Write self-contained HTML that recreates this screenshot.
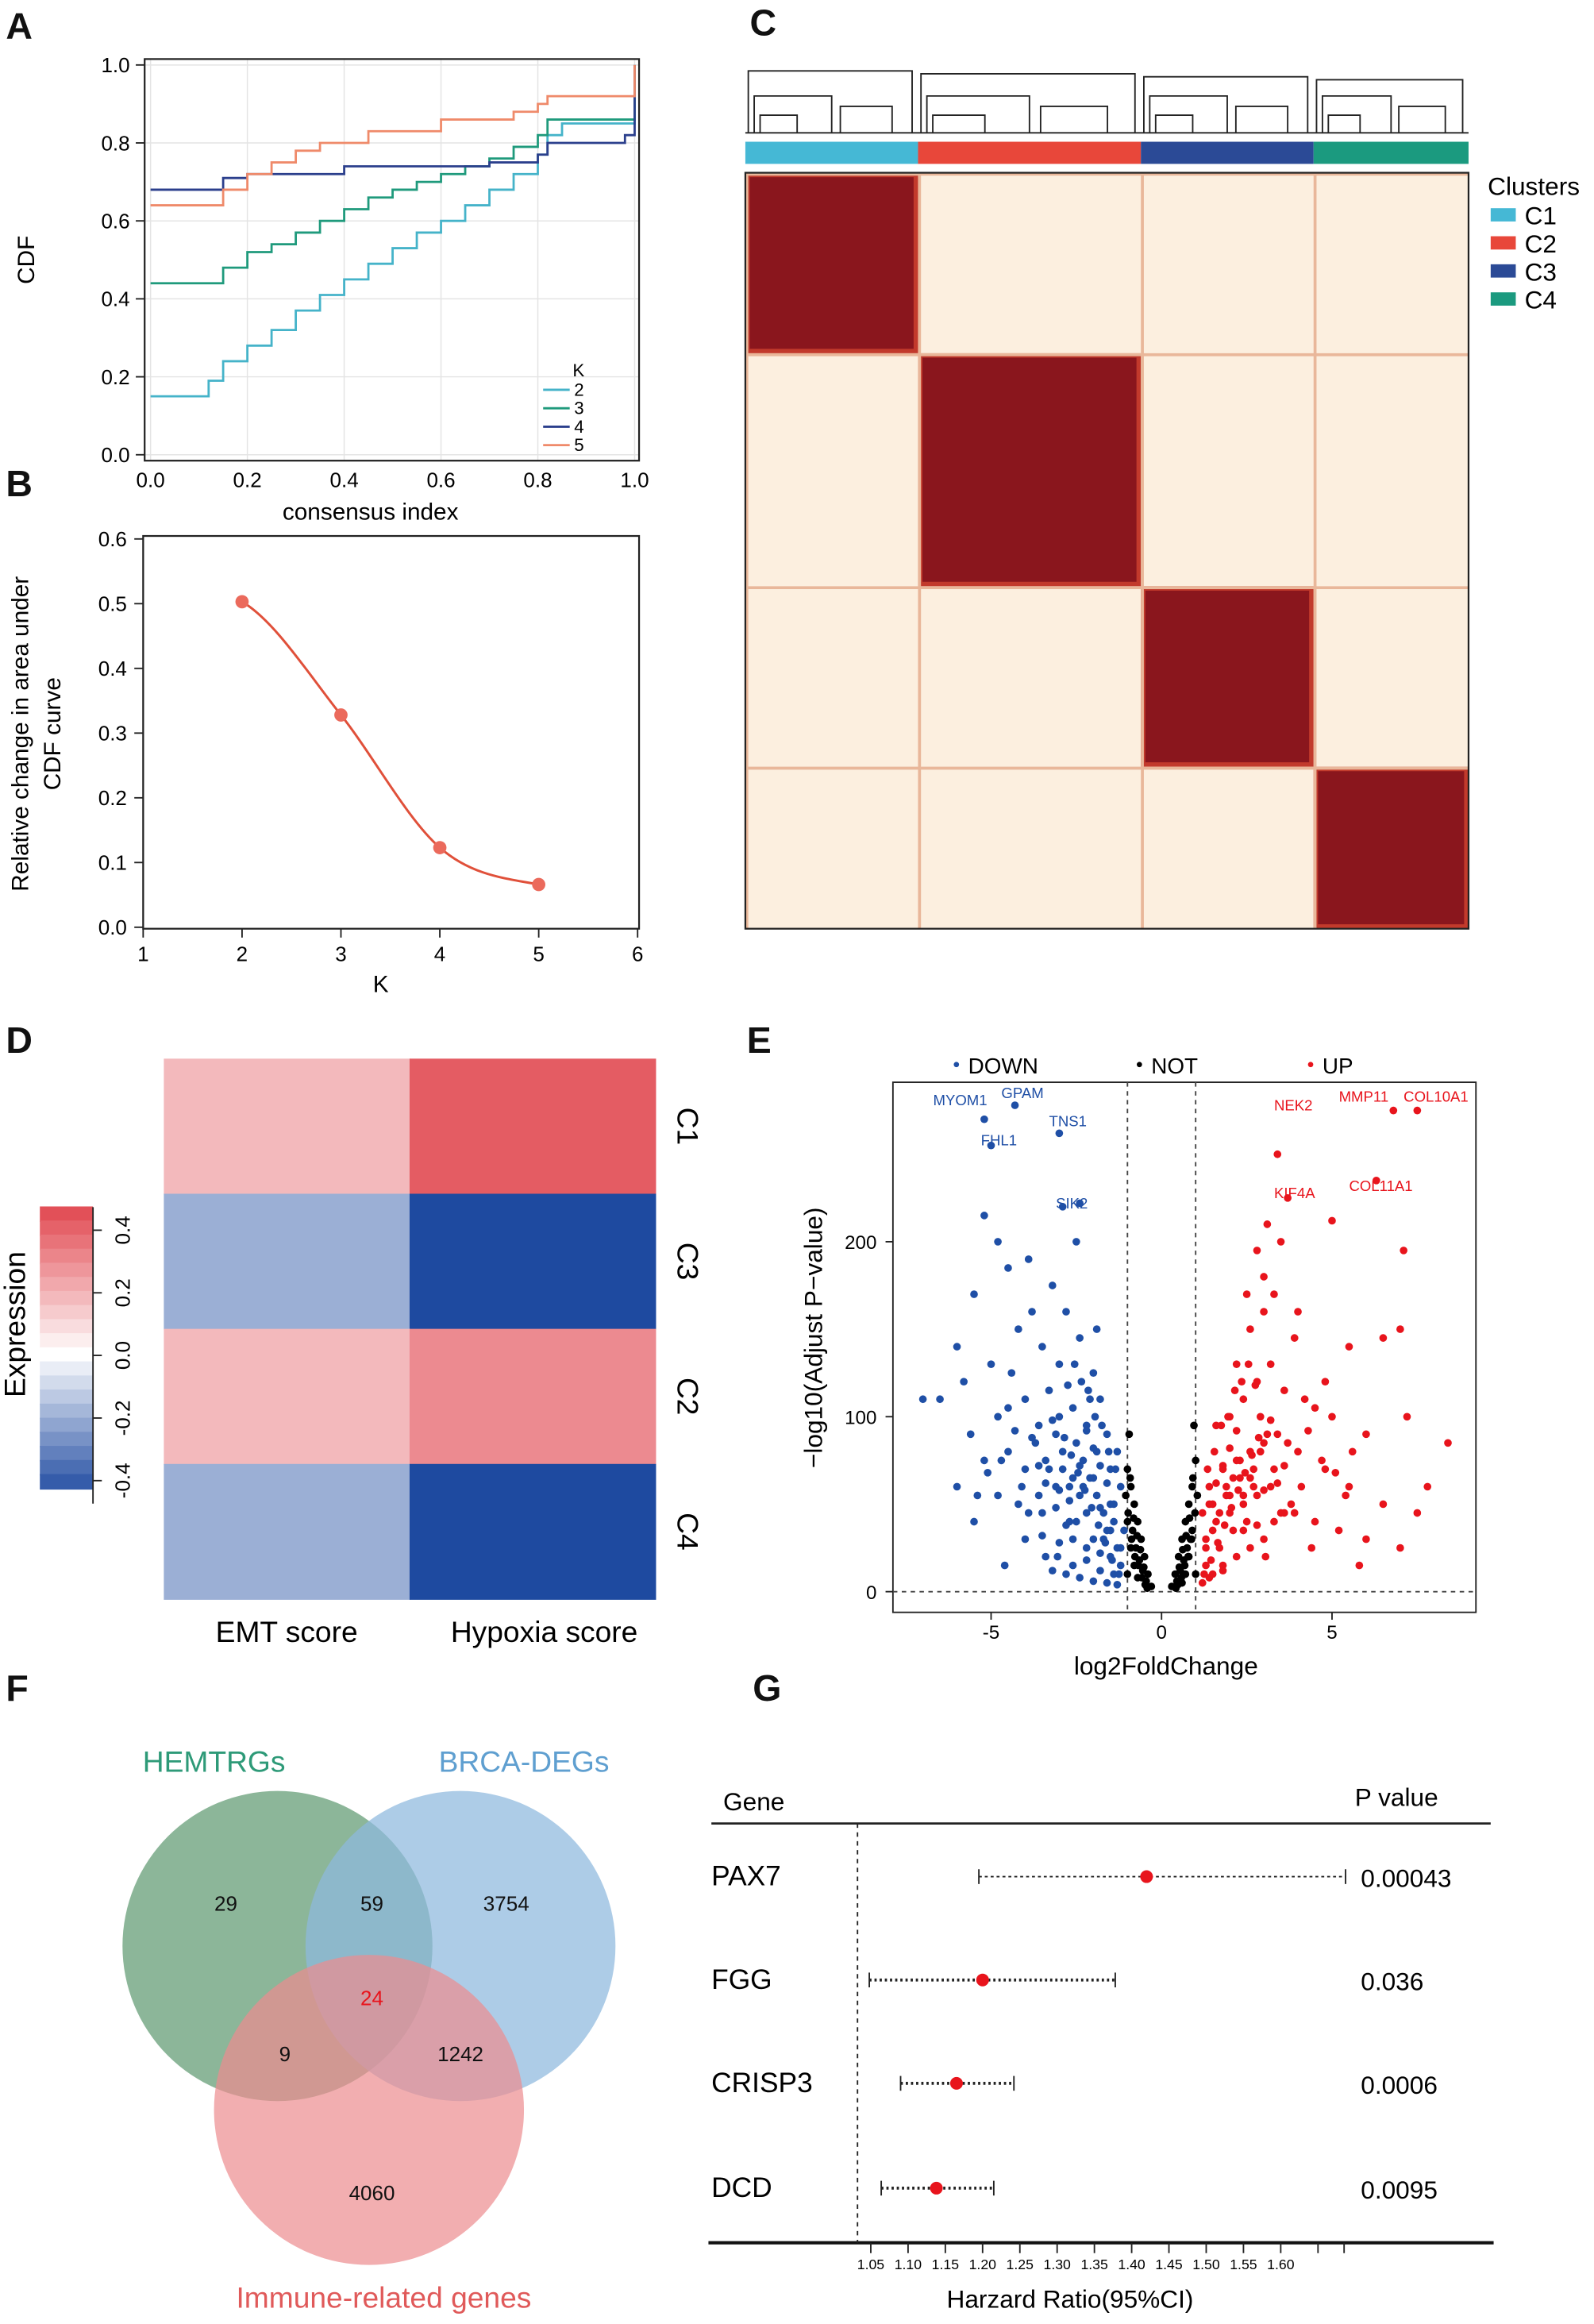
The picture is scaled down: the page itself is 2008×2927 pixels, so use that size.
<!DOCTYPE html>
<html><head><meta charset="utf-8"><style>
html,body{margin:0;padding:0;background:#fff}
svg{display:block;font-family:"Liberation Sans",Arial,sans-serif}
</style></head><body>
<svg id="fig" width="2008" height="2927" viewBox="0 0 1080 1574" preserveAspectRatio="none" xmlns="http://www.w3.org/2000/svg">
<rect width="1080" height="1574" fill="#fff"/>
<g font-size="25" font-weight="bold" fill="#111">
<text x="4" y="26">A</text>
<text x="4" y="336">B</text>
<text x="508" y="24">C</text>
<text x="4" y="713">D</text>
<text x="506" y="713">E</text>
<text x="4" y="1152">F</text>
<text x="510" y="1152">G</text>
</g>
<g id="pa"></g>
<g id="pb"></g>
<g id="pc"></g>
<g id="pd"></g>
<g id="pe"></g>
<g id="pf"></g>
<g id="pg"></g>
</svg>
<script>
// ---------- DATA ----------
const cdfKs=["2","3","4","5"];
const cdfColors=["#45b3c9","#1f9a7c","#2b3f8c","#ef8a6a"];
const cdfX=[[0,0.1,0.12,0.15,0.2,0.25,0.3,0.35,0.4,0.45,0.5,0.55,0.6,0.65,0.7,0.75,0.8,0.82,0.85,0.98,1],
[0,0.1,0.15,0.2,0.25,0.3,0.35,0.4,0.45,0.5,0.55,0.6,0.65,0.7,0.75,0.8,0.82,0.98,1],
[0,0.1,0.15,0.2,0.4,0.6,0.7,0.8,0.82,0.98,1],
[0,0.1,0.15,0.2,0.25,0.3,0.35,0.45,0.6,0.75,0.8,0.82,0.98,1]];
const cdfY=[[0.15,0.15,0.19,0.24,0.28,0.32,0.37,0.41,0.45,0.49,0.53,0.57,0.6,0.64,0.68,0.72,0.77,0.82,0.85,0.85,1],
[0.44,0.44,0.48,0.52,0.54,0.57,0.6,0.63,0.66,0.68,0.7,0.72,0.74,0.76,0.79,0.82,0.86,0.86,1],
[0.68,0.68,0.71,0.72,0.74,0.74,0.75,0.77,0.8,0.82,1],
[0.64,0.64,0.68,0.72,0.75,0.78,0.8,0.83,0.86,0.88,0.9,0.92,0.92,1]];
const aTicks=[0,0.2,0.4,0.6,0.8,1.0];
const bK=[2,3,4,5];
const bDelta=[0.503,0.328,0.123,0.066];
const bXTicks=[1,2,3,4,5,6];
const bYTicks=[0,0.1,0.2,0.3,0.4,0.5,0.6];
const clusterNames=["C1","C2","C3","C4"];
const clusterColors=["#45b8d5","#e8473a","#2b4a96","#1b9a7f"];
const clusterSizes=[117,151,117,105];
const dRows=["C1","C3","C2","C4"];
const dCols=["EMT score","Hypoxia score"];
const dEMT=[0.18,-0.2,0.18,-0.2];
const dHyp=[0.42,-0.45,0.3,-0.45];
const dTicks=[0.4,0.2,0.0,-0.2,-0.4];
const eTicksX=[-5,0,5];
const eTicksY=[0,100,200];
const downX=[-5.2,-4.8,-4.5,-5.5,-3.9,-3.2,-2.8,-2.5,-6.0,-5.8,-5.0,-4.2,-3.5,-3.0,-2.4,-2.0,-1.8,-4.8,-4.0,-3.6,-3.0,-2.6,-2.2,-1.6,-5.6,-6.5,-7.0,-5.2,-4.5,-4.0,-3.4,-2.9,-2.4,-2.0,-1.5,-1.2,-4.8,-4.2,-3.6,-3.1,-2.7,-2.2,-1.8,-1.4,-1.1,-4.0,-3.5,-3.0,-2.6,-2.2,-1.8,-1.5,-1.2,-3.2,-2.8,-2.4,-2.0,-1.6,-1.3,-5.5,-6.0,-3.8,-2.9,-4.4,-1.9,-3.3,-2.5,-1.7,-1.3,-2.1,-5.2,-4.3,-3.0,-5.0,-2.4,-1.5,-1.9,-2.3,-2.7,-3.4,-1.2,-1.6,-2.0,-3.8,-4.6,-1.4,-1.8,-2.2,-2.6,-3.1,
-1.3,-1.5,-1.7,-1.9,-2.1,-2.3,-2.5,-2.7,-2.9,-3.1,-3.3,-3.5,-3.7,-1.4,-1.6,-1.8,-2.0,-2.2,-2.4,-2.6,-2.8,-3.0,-3.2,-3.4,-3.6,-1.25,-1.45,-1.65,-1.85,-2.05,-2.25,-2.45,-2.65,-2.85,-3.05,-4.1,-4.3,-4.7,-5.1,-5.4,-1.35,-1.55,-1.75,-1.95,-2.15,-2.35,-2.55,-2.75,-3.9,-4.5];
const downY=[215,200,185,170,190,175,160,200,140,120,130,150,140,130,145,125,110,100,110,95,100,105,95,90,90,110,110,75,80,70,75,70,72,65,70,60,55,50,55,48,52,45,48,40,35,30,32,28,30,25,22,20,15,12,10,8,6,5,4,40,60,160,220,125,150,115,85,30,80,110,270,278,262,255,222,50,80,60,40,20,25,35,30,88,15,10,12,18,15,60,
25,35,45,55,65,75,40,60,80,90,70,45,85,50,62,72,82,92,55,65,38,58,98,62,72,10,18,28,38,48,58,68,78,88,20,60,92,75,68,55,70,80,95,100,115,120,130,118,45,105];
const upX=[1.2,1.5,1.8,2.2,2.6,3.0,1.3,1.6,2.0,2.4,2.8,3.2,3.8,4.5,5.2,6.0,7.0,1.4,1.8,2.2,2.6,3.0,3.4,4.0,4.8,5.5,6.5,7.5,1.6,2.0,2.4,2.8,3.2,3.6,4.2,5.0,6.0,7.2,8.4,2.2,2.6,3.0,3.3,3.0,2.8,3.5,4.0,5.5,6.5,7.0,2.5,3.1,4.8,5.6,7.8,2.0,1.2,3.6,4.4,5.8,2.4,3.9,3.4,3.7,5.0,7.1,6.3,7.5,6.8,1.3,1.7,2.1,1.5,1.9,2.3,2.7,3.3,1.4,1.8,2.9,
1.3,1.5,1.7,1.9,2.1,2.3,2.5,2.7,2.9,3.1,3.3,3.5,3.7,1.4,1.6,1.8,2.0,2.2,2.4,2.6,2.8,3.0,3.2,3.4,3.6,1.25,1.45,1.65,1.85,2.05,2.25,2.45,2.65,2.85,3.05,4.1,4.3,4.7,5.1,5.4,1.35,1.55,1.75,1.95,2.15,2.35,2.55,2.75,3.9,4.5];
const upY=[5,10,15,20,25,30,30,40,45,50,55,60,50,40,35,30,25,60,70,75,80,85,90,80,70,60,50,45,95,100,110,120,130,115,110,100,90,100,85,130,150,160,170,180,195,200,160,140,145,150,170,210,120,80,60,55,45,45,25,15,35,145,250,225,212,195,235,275,275,15,25,35,50,60,65,70,40,8,12,100,
25,35,45,55,65,75,40,60,80,90,70,45,85,50,62,72,82,92,55,65,38,58,98,62,72,10,18,28,38,48,58,68,78,88,20,60,92,75,68,55,70,80,95,100,115,120,130,118,45,105];
const notX=[-1.0,-0.9,-0.8,-0.7,-0.6,-0.5,-0.4,-0.3,1.0,0.9,0.8,0.7,0.6,0.5,0.4,0.3,-1.0,-0.9,-0.8,-0.7,0.9,0.8,0.7,0.6,-1.0,1.0,-0.95,0.95,-0.85,0.85,-0.75,0.75,-0.65,0.65,-0.55,0.55,-0.45,0.45,
-1.05,-0.98,-0.92,-0.88,-0.82,-0.78,-0.72,-0.68,-0.62,-0.58,-0.52,-0.48,-0.42,0.42,0.48,0.52,0.58,0.62,0.68,0.72,0.78,0.82,0.88,0.92,0.98,1.05];
const notY=[70,60,50,40,30,20,10,3,75,60,50,40,30,20,10,3,40,25,15,8,35,20,10,5,10,10,90,95,35,30,25,25,18,18,12,12,6,6,
55,45,65,30,42,20,32,15,24,8,14,4,2,2,4,14,8,24,15,32,20,42,30,65,45,55];
const downLabels=["MYOM1","GPAM","FHL1","TNS1","SIK2"];
const downLabelX=[-6.7,-4.7,-5.3,-3.3,-3.1];
const downLabelY=[278,282,255,266,219];
const upLabels=["NEK2","MMP11","COL10A1","KIF4A","COL11A1"];
const upLabelX=[3.3,5.2,7.1,3.3,5.5];
const upLabelY=[275,280,280,225,229];
const vennLabels=["29","59","3754","24","9","1242","4060"];
const genes=["PAX7","FGG","CRISP3","DCD"];
const hr=[1.42,1.20,1.165,1.138];
const lo=[1.195,1.048,1.09,1.064];
const hi=[1.687,1.378,1.242,1.215];
const pvals=["0.00043","0.036","0.0006","0.0095"];
const gTicks=[1.05,1.10,1.15,1.20,1.25,1.30,1.35,1.40,1.45,1.50,1.55,1.60];

// ---------- HELPERS ----------
const NS="http://www.w3.org/2000/svg";
function mk(parent,tag,attrs,text){const e=document.createElementNS(NS,tag);for(const k in attrs)e.setAttribute(k,attrs[k]);if(text!==undefined)e.textContent=text;parent.appendChild(e);return e;}

// ---------- PANEL A ----------
(function(){
const g=document.getElementById('pa');
const xs=v=>102+v*328, ys=v=>308-v*264;
for(const t of aTicks){mk(g,'line',{x1:xs(t),x2:xs(t),y1:40,y2:312,stroke:'#e4e4e4','stroke-width':0.8});mk(g,'line',{x1:98,x2:433,y1:ys(t),y2:ys(t),stroke:'#e4e4e4','stroke-width':0.8});}
const box=mk(g,'rect',{x:98,y:40,width:335,height:272,fill:'none',stroke:'#222','stroke-width':1.2});

for(const t of aTicks){
 const a=mk(g,'text',{x:xs(t),y:330,'font-size':14,'text-anchor':'middle'},t.toFixed(1));
 
 const b=mk(g,'text',{x:88,y:ys(t)+5,'font-size':14,'text-anchor':'end'},t.toFixed(1));
 
 mk(g,'line',{x1:92,x2:98,y1:ys(t),y2:ys(t),stroke:'#222'});
}
cdfKs.forEach((k,i)=>{let d='';cdfX[i].forEach((x,j)=>{if(j===0)d+='M'+xs(x)+','+ys(cdfY[i][j]);else d+='L'+xs(x)+','+ys(cdfY[i][j-1])+'L'+xs(x)+','+ys(cdfY[i][j]);});
 const p=mk(g,'path',{d:d,fill:'none',stroke:cdfColors[i],'stroke-width':1.5});
 
 mk(g,'line',{x1:368,x2:386,y1:264+i*12.5,y2:264+i*12.5,stroke:cdfColors[i],'stroke-width':1.5});
 const t=mk(g,'text',{x:389,y:268+i*12.5,'font-size':12},k);
 
});
const lk=mk(g,'text',{x:388,y:255,'font-size':12},'K');
const xl=mk(g,'text',{x:251,y:352,'font-size':16,'text-anchor':'middle'},'consensus index');
const yl=mk(g,'text',{x:0,y:0,'font-size':16,'text-anchor':'middle',transform:'translate(23,176) rotate(-90)'},'CDF');
})();

// ---------- PANEL B ----------
(function(){
const g=document.getElementById('pb');
const xs=v=>97+(v-1)*67, ys=v=>628-v*438.3;
const f=mk(g,'rect',{x:97,y:363,width:336,height:266,fill:'none',stroke:'#222','stroke-width':1.2});

for(const t of bXTicks){mk(g,'line',{x1:xs(t),x2:xs(t),y1:629,y2:635,stroke:'#222'});const a=mk(g,'text',{x:xs(t),y:651,'font-size':14,'text-anchor':'middle'},t);}
for(const t of bYTicks){mk(g,'line',{x1:91,x2:97,y1:ys(t),y2:ys(t),stroke:'#222'});const a=mk(g,'text',{x:86,y:ys(t)+5,'font-size':14,'text-anchor':'end'},t.toFixed(1));}
let d='M'+xs(bK[0])+','+ys(bDelta[0]);
for(let i=1;i<bK.length;i++){const x0=xs(bK[i-1]),y0=ys(bDelta[i-1]),x1=xs(bK[i]),y1=ys(bDelta[i]);const pm=i>=2?ys(bDelta[i-2]):y0,nx=i+1<bK.length?ys(bDelta[i+1]):y1;
 d+=' C'+(x0+22)+','+(y0+(y1-pm)/6)+' '+(x1-22)+','+(y1-(nx-y0)/6)+' '+x1+','+y1;}
const p=mk(g,'path',{d:d,fill:'none',stroke:'#e0503a','stroke-width':1.6});
bK.forEach((k,i)=>{const c=mk(g,'circle',{cx:xs(k),cy:ys(bDelta[i]),r:4.5,fill:'#eb6a5c'});});
const xl=mk(g,'text',{x:258,y:672,'font-size':16,'text-anchor':'middle'},'K');
const y1=mk(g,'text',{x:0,y:0,'font-size':16,'text-anchor':'middle',transform:'translate(19,497) rotate(-90)'},'Relative change in area under');
const y2=mk(g,'text',{x:0,y:0,'font-size':16,'text-anchor':'middle',transform:'translate(41,497) rotate(-90)'},'CDF curve');
})();

// ---------- PANEL C ----------
(function(){
const g=document.getElementById('pc');
const x0=505,W=490,tot=clusterSizes.reduce((a,b)=>a+b,0);
const top=117,H=512;
const bg=mk(g,'rect',{x:x0,y:top,width:W,height:H,fill:'#fcefdf'});
let acc=0;const starts=[];
clusterSizes.forEach(s=>{starts.push(acc);acc+=s;});
clusterSizes.forEach((s,i)=>{
 const x=x0+starts[i]/tot*W,w=s/tot*W,y=top+starts[i]/tot*H,h=s/tot*H;
 const bar=mk(g,'rect',{x:x,y:96,width:w,height:15,fill:clusterColors[i]});
 mk(g,'rect',{x:x,y:y,width:w,height:h,fill:'#c23a2c'});
 const b=mk(g,'rect',{x:x+3,y:y+3,width:w-6,height:h-6,fill:'#8a161d'});
 mk(g,'line',{x1:x0,x2:x0+W,y1:y+1,y2:y+1,stroke:'#e9b79a','stroke-width':2});
 mk(g,'line',{x1:x+1,x2:x+1,y1:top,y2:top+H,stroke:'#e9b79a','stroke-width':2});
 mk(g,'path',{d:'M'+(x+2)+',90 V'+(48+i*2)+' H'+(x+w-4)+' V90 M'+(x+6)+',90 V65 H'+(x+w*0.5)+' V90 M'+(x+10)+',90 V78 H'+(x+w*0.3)+' V90 M'+(x+w*0.55)+',90 V72 H'+(x+w*0.85)+' V90',fill:'none',stroke:'#222','stroke-width':1});
});
mk(g,'line',{x1:x0,x2:x0+W,y1:90,y2:90,stroke:'#222'});
mk(g,'rect',{x:x0,y:top,width:W,height:H,fill:'none',stroke:'#222','stroke-width':1.2});
const lt=mk(g,'text',{x:1008,y:132,'font-size':17},'Clusters');
clusterNames.forEach((n,i)=>{mk(g,'rect',{x:1010,y:141+i*19,width:17,height:9,fill:clusterColors[i]});const t=mk(g,'text',{x:1033,y:152+i*19,'font-size':17},n);});
})();

// ---------- PANEL D ----------
(function(){
const g=document.getElementById('pd');
function col(v){const t=Math.min(1,Math.abs(v)/0.45);if(v>=0){return 'rgb('+Math.round(255-(255-226)*t)+','+Math.round(255-(255-80)*t)+','+Math.round(255-(255-88)*t)+')';}return 'rgb('+Math.round(255-(255-30)*t)+','+Math.round(255-(255-74)*t)+','+Math.round(255-(255-160)*t)+')';}
const x0=111,cw=166.5,y0=717,rh=91.5;
dRows.forEach((r,i)=>{
 [dEMT[i],dHyp[i]].forEach((v,j)=>{const c=mk(g,'rect',{x:x0+j*cw,y:y0+i*rh,width:cw+0.5,height:rh+0.5,fill:col(v)});});
 const t=mk(g,'text',{x:0,y:0,'font-size':20,'text-anchor':'middle',transform:'translate(459,'+(y0+i*rh+rh/2)+') rotate(90)'},r);
});
dCols.forEach((c,j)=>{const t=mk(g,'text',{x:x0+j*cw+cw/2+(j?8:0),y:1112,'font-size':20,'text-anchor':'middle'},c);});
const ys=v=>913-v*212;
for(let k=0;k<20;k++){const v=0.45-k*0.045;mk(g,'rect',{x:27,y:ys(v)-0.5,width:36,height:10.5,fill:col(v)});}
const cb=mk(g,'rect',{x:27,y:ys(0.45)-0.5,width:36,height:ys(-0.45)-ys(0.45)+10,fill:'none',stroke:'none'});
mk(g,'line',{x1:63,x2:63,y1:ys(0.45),y2:ys(-0.45)+10,stroke:'#222'});
dTicks.forEach(t=>{mk(g,'line',{x1:63,x2:69,y1:ys(t)+5,y2:ys(t)+5,stroke:'#222'});const a=mk(g,'text',{x:0,y:0,'font-size':14,'text-anchor':'middle',transform:'translate(88,'+(ys(t)+5)+') rotate(-90)'},t.toFixed(1));});
const yl=mk(g,'text',{x:0,y:0,'font-size':20,'text-anchor':'middle',transform:'translate(17,897) rotate(-90)'},'Expression');
})();

// ---------- PANEL E ----------
(function(){
const g=document.getElementById('pe');
const xs=v=>787+v*23.1, ys=v=>1078-v*1.185;
const f=mk(g,'rect',{x:605,y:733,width:395,height:359,fill:'none',stroke:'#222','stroke-width':1});
[-1,1].forEach(v=>mk(g,'line',{x1:xs(v),x2:xs(v),y1:733,y2:1092,stroke:'#444','stroke-dasharray':'3,3'}));
mk(g,'line',{x1:605,x2:1000,y1:ys(0),y2:ys(0),stroke:'#444','stroke-dasharray':'3,3'});
eTicksX.forEach(t=>{mk(g,'line',{x1:xs(t),x2:xs(t),y1:1092,y2:1097,stroke:'#222'});const a=mk(g,'text',{x:xs(t),y:1110,'font-size':13,'text-anchor':'middle'},t);});
eTicksY.forEach(t=>{mk(g,'line',{x1:600,x2:605,y1:ys(t),y2:ys(t),stroke:'#222'});const a=mk(g,'text',{x:594,y:ys(t)+5,'font-size':13,'text-anchor':'end'},t);});
function pts(X,Y,c,n){X.forEach((x,i)=>{const p=mk(g,'circle',{cx:xs(x),cy:ys(Y[i]),r:2.6,fill:c});});}
pts(notX,notY,'#000','not-point');pts(downX,downY,'#1f4fa6','down-point');pts(upX,upY,'#e8141c','up-point');
downLabels.forEach((l,i)=>{const t=mk(g,'text',{x:xs(downLabelX[i]),y:ys(downLabelY[i]),'font-size':10,fill:'#1f4fa6'},l);});
upLabels.forEach((l,i)=>{const t=mk(g,'text',{x:xs(upLabelX[i]),y:ys(upLabelY[i]),'font-size':10,fill:'#e8141c'},l);});
[['DOWN','#1f4fa6',648],['NOT','#000',772],['UP','#e8141c',888]].forEach(a=>{mk(g,'circle',{cx:a[2],cy:721,r:1.8,fill:a[1]});const t=mk(g,'text',{x:a[2]+8,y:727,'font-size':15},a[0]);});
const xl=mk(g,'text',{x:790,y:1134,'font-size':17,'text-anchor':'middle'},'log2FoldChange');
const yl=mk(g,'text',{x:0,y:0,'font-size':17,'text-anchor':'middle',transform:'translate(557,906) rotate(-90)'},'−log10(Adjust P−value)');
})();

// ---------- PANEL F ----------
(function(){
const g=document.getElementById('pf');
const c1=mk(g,'circle',{cx:188,cy:1318,r:105,fill:'#5f9a72','fill-opacity':0.72});
const c2=mk(g,'circle',{cx:312,cy:1318,r:105,fill:'#8db8de','fill-opacity':0.72});
const c3=mk(g,'circle',{cx:250,cy:1429,r:105,fill:'#ec8c8e','fill-opacity':0.7});
const pos=[[153,1294],[252,1294],[343,1294],[252,1358],[193,1396],[312,1396],[252,1490]];
vennLabels.forEach((l,i)=>{const t=mk(g,'text',{x:pos[i][0],y:pos[i][1],'font-size':14,'text-anchor':'middle',fill:i===3?'#e8141c':'#111'},l);});
[['HEMTRGs','#2e9a78',145,1200],['BRCA-DEGs','#5f9fd0',355,1200],['Immune-related genes','#e05a5a',260,1563]].forEach(a=>{const t=mk(g,'text',{x:a[2],y:a[3],'font-size':20,'text-anchor':'middle',fill:a[1]},a[0]);});
})();

// ---------- PANEL G ----------
(function(){
const g=document.getElementById('pg');
const xs=v=>590+(v-1.05)*505, rowY=[1271,1341,1411,1482];
const h1=mk(g,'text',{x:490,y:1226,'font-size':17},'Gene');
const h2=mk(g,'text',{x:918,y:1223,'font-size':17},'P value');
mk(g,'line',{x1:482,x2:1010,y1:1235,y2:1235,stroke:'#222','stroke-width':1.5});
const ax=mk(g,'line',{x1:480,x2:1012,y1:1519,y2:1519,stroke:'#111','stroke-width':2.2});
mk(g,'line',{x1:581,x2:581,y1:1235,y2:1519,stroke:'#222','stroke-dasharray':'3,3'});
gTicks.forEach(t=>{mk(g,'line',{x1:xs(t),x2:xs(t),y1:1519,y2:1526,stroke:'#222'});const a=mk(g,'text',{x:xs(t),y:1537,'font-size':9.5,'text-anchor':'middle'},t.toFixed(2));});
[1.65,1.685].forEach(t=>mk(g,'line',{x1:xs(t),x2:xs(t),y1:1519,y2:1526,stroke:'#222'}));
genes.forEach((n,i)=>{const y=rowY[i];
 const l=mk(g,'line',{x1:xs(lo[i]),x2:xs(hi[i]),y1:y,y2:y,stroke:'#222','stroke-width':i===0?1:2,'stroke-dasharray':i===0?'2,2':'1.5,2'});
 [lo[i],hi[i]].forEach(v=>mk(g,'line',{x1:xs(v),x2:xs(v),y1:y-5,y2:y+5,stroke:'#222'}));
 const c=mk(g,'circle',{cx:xs(hr[i]),cy:y,r:4.3,fill:'#e8141c'});
 const t=mk(g,'text',{x:482,y:y+6,'font-size':19},n);
 const p=mk(g,'text',{x:922,y:y+7,'font-size':17},pvals[i]);
});
const xl=mk(g,'text',{x:725,y:1563,'font-size':17,'text-anchor':'middle'},'Harzard Ratio(95%CI)');
})();
</script>
</body></html>
